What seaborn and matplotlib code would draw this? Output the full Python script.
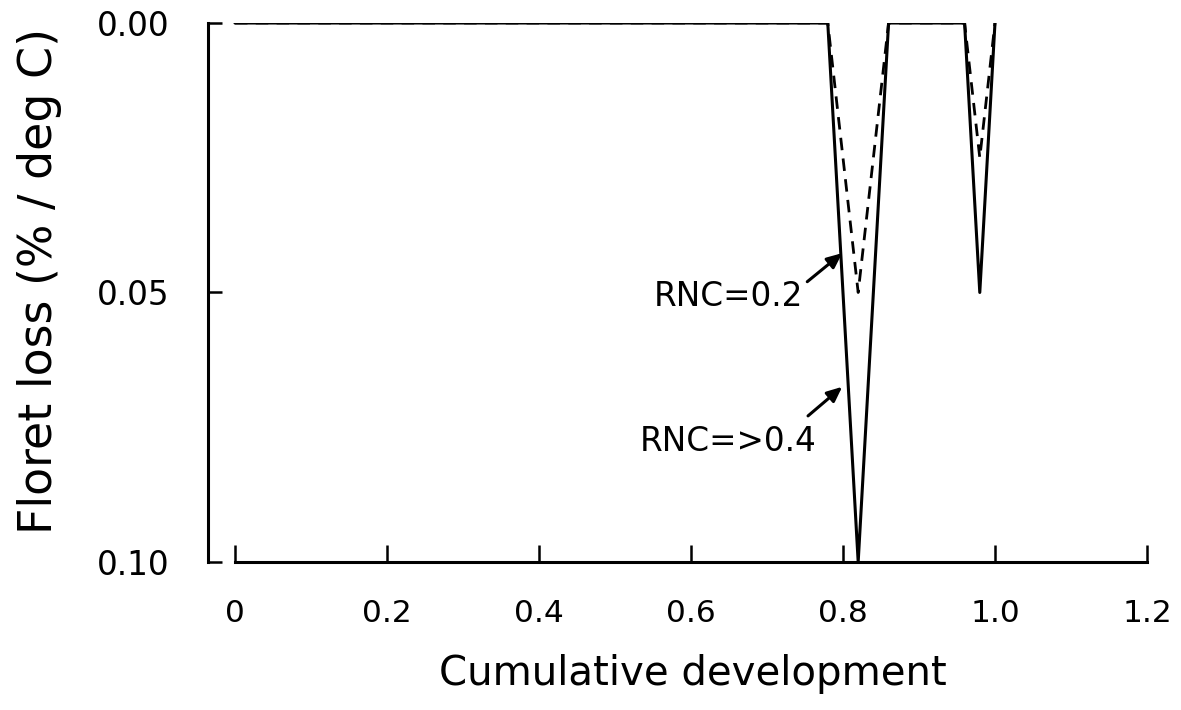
import numpy as np
import pandas as pd
import matplotlib
matplotlib.use("Agg")
import matplotlib.pyplot as plt
import seaborn as sns

# --- data ---
# floret loss per degree C vs cumulative development, two RNC levels
dev_high = [0.0, 0.78, 0.82, 0.86, 0.96, 0.98, 1.0]
loss_high = [0.0, 0.0, 0.10, 0.0, 0.0, 0.05, 0.0]      # RNC=>0.4 (solid)
dev_low = [0.0, 0.78, 0.82, 0.86, 0.96, 0.98, 1.0]
loss_low = [0.0, 0.0, 0.05, 0.0, 0.0, 0.025, 0.0]      # RNC=0.2 (dashed)

x_ticks = [0, 0.2, 0.4, 0.6, 0.8, 1.0, 1.2]
x_ticklabels = ["0", "0.2", "0.4", "0.6", "0.8", "1.0", "1.2"]
y_ticks = [0.0, 0.05, 0.10]
y_ticklabels = ["0.00", "0.05", "0.10"]

df_high = pd.DataFrame({"dev": dev_high, "loss": loss_high})
df_low = pd.DataFrame({"dev": dev_low, "loss": loss_low})

sns.set_style("ticks")
plt.rcParams["font.family"] = ["DejaVu Sans"]
# plain black everything, like the scanned original
for key in ["text.color", "axes.labelcolor", "xtick.color", "ytick.color", "axes.edgecolor"]:
    plt.rcParams[key] = "black"

fig = plt.figure(figsize=(11.81, 7.10), dpi=100)
ax = fig.add_axes([0.1761, 0.2085, 0.7951, 0.7591])

# dashed line first so the solid one sits on top where they overlap
sns.lineplot(data=df_low, x="dev", y="loss", ax=ax, color="black",
             linewidth=2.0, linestyle=(0, (4.5, 3)), sort=False)
sns.lineplot(data=df_high, x="dev", y="loss", ax=ax, color="black",
             linewidth=2.2, sort=False)

ax.set_xlim(-0.0355, 1.2)
ax.set_ylim(0.10, 0.0)  # inverted: 0.00 at top

ax.set_xticks(x_ticks)
ax.set_xticklabels(x_ticklabels)
ax.set_yticks(y_ticks)
ax.set_yticklabels(y_ticklabels)

# axis look: ticks pointing inward, x axis detached from the y axis
for side in ["top", "right"]:
    ax.spines[side].set_visible(False)
ax.spines["left"].set_linewidth(2.2)
ax.spines["bottom"].set_linewidth(2.2)
ax.spines["bottom"].set_bounds(0, 1.2)
ax.tick_params(axis="x", direction="in", length=12, width=1.8, pad=27, labelsize=22.5)
ax.tick_params(axis="y", direction="in", length=10, width=1.8, pad=28, labelsize=23.5)

ax.set_xlabel("")
ax.set_ylabel("")
fig.text(693 / 1181, 1 - 685 / 710, "Cumulative development", fontsize=29,
         ha="center", va="baseline")
fig.text(52 / 1181, 1 - 281 / 710, "Floret loss (% / deg C)", fontsize=33,
         rotation=90, rotation_mode="anchor", ha="center", va="baseline")

# labels with arrows
ax.text(0.649, 0.0508, "RNC=0.2", fontsize=23.5, ha="center", va="center")
ax.text(0.649, 0.0777, "RNC=>0.4", fontsize=23.5, ha="center", va="center")
arrow = dict(arrowstyle="-|>,head_length=0.9,head_width=0.4", color="black",
             lw=2.2, shrinkA=0, shrinkB=0)
ax.annotate("", xy=(0.799, 0.0427), xytext=(0.753, 0.0480), arrowprops=arrow)
ax.annotate("", xy=(0.799, 0.0675), xytext=(0.754, 0.0729), arrowprops=arrow)

fig.savefig("out.png", dpi=100)
